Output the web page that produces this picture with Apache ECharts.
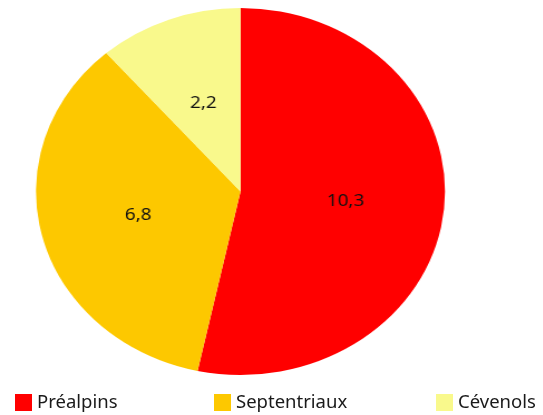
<!DOCTYPE html>
<html>
<head>
<meta charset="utf-8">
<script src="https://cdn.jsdelivr.net/npm/echarts@6/dist/echarts.min.js"></script>
<style>
  html, body { margin: 0; padding: 0; background: #fff; }
  #wrap { position: relative; width: 543px; height: 415px; overflow: hidden; }
  /* the pie in the original is a bit wider than tall, so stretch it */
  #pie { position: absolute; left: 0; top: 0; width: 487px; height: 415px;
         transform: scaleX(1.1144); transform-origin: 0 0; }
  #legend { position: absolute; left: 0; top: 0; width: 543px; height: 415px; }
</style>
</head>
<body>
<div id="wrap">
  <div id="pie"></div>
  <div id="legend"></div>
</div>
<script>
const names = ["Préalpins", "Septentriaux", "Cévenols"];
const values = [10.3, 6.8, 2.2];
const colors = ["#ff0000", "#fdc800", "#f9f98c"];
const legendLeft = [10, 209, 431];

const pieData = names.map((n, i) => ({ name: n, value: values[i] }));

let pie = echarts.init(document.getElementById("pie"));
pie.setOption({
  animation: false,
  color: colors,
  series: [
    {
      type: "pie",
      center: [215.8, 191.5],
      radius: 183.5,
      startAngle: 90,
      clockwise: true,
      data: pieData,
      itemStyle: { borderWidth: 0 },
      label: {
        position: "inside",
        formatter: p => String(p.value).replace(".", ","),
        color: "#111",
        fontSize: 17,
        fontFamily: "Noto Sans"
      },
      labelLine: { show: false },
      emphasis: { disabled: true }
    }
  ]
});

let leg = echarts.init(document.getElementById("legend"));
leg.setOption({
  animation: false,
  color: colors,
  legend: names.map((n, i) => ({
    data: [n],
    left: legendLeft[i],
    top: 388,
    icon: "rect",
    itemWidth: 17,
    itemHeight: 17,
    itemGap: 0,
    textStyle: { fontSize: 18.5, color: "#1a1a1a", fontFamily: "Noto Sans", padding: [0, 0, 0, 0] },
    selectedMode: false
  })),
  series: [
    {
      type: "pie",
      radius: 0,
      silent: true,
      data: pieData,
      label: { show: false },
      labelLine: { show: false }
    }
  ]
});
</script>
</body>
</html>
